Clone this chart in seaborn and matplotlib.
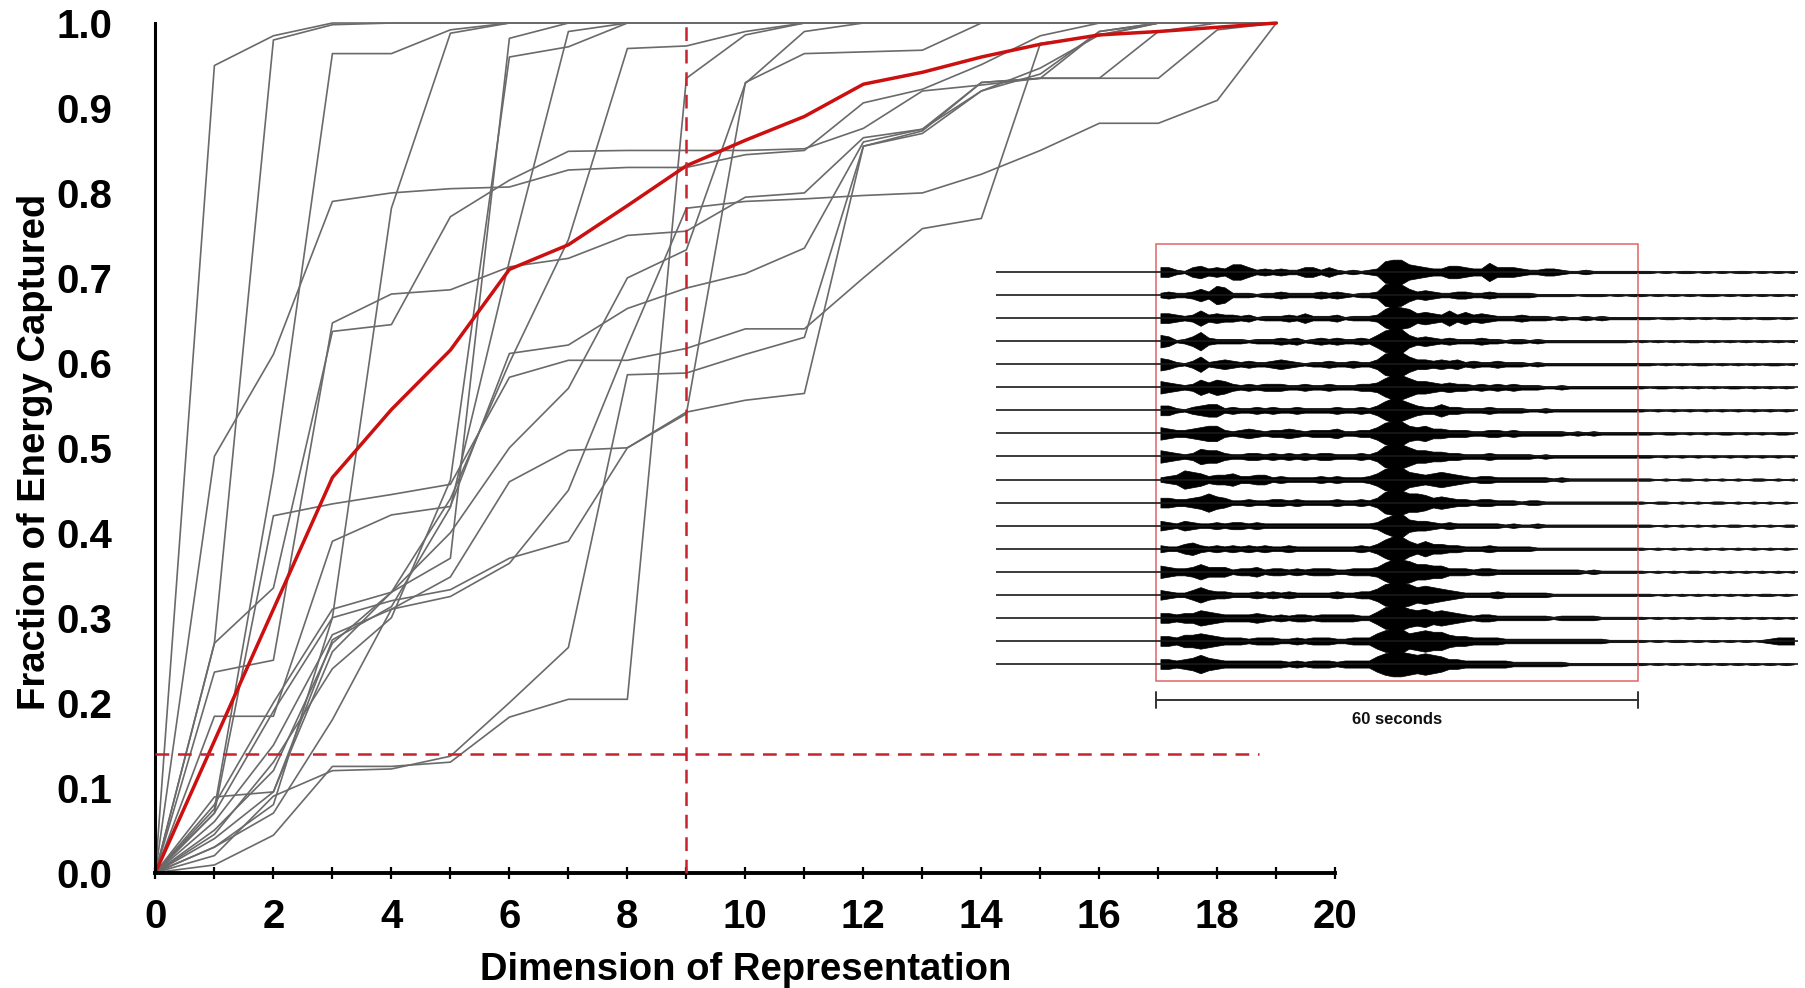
import numpy as np
import pandas as pd
import matplotlib
matplotlib.use("Agg")
import matplotlib.pyplot as plt
from matplotlib.patches import Rectangle
import seaborn as sns

# ---------------- data ----------------
dims = list(range(20))

curves = {
    "c01": [0, .95, .985, 1, 1, 1, 1, 1, 1, 1, 1, 1, 1, 1, 1, 1, 1, 1, 1, 1],
    "c02": [0, .27, .98, .998, 1, 1, 1, 1, 1, 1, 1, 1, 1, 1, 1, 1, 1, 1, 1, 1],
    "c03": [0, .075, .47, .964, .964, .992, 1, 1, 1, 1, 1, 1, 1, 1, 1, 1, 1, 1, 1, 1],
    "c04": [0, .07, .19, .30, .782, .988, 1, 1, 1, 1, 1, 1, 1, 1, 1, 1, 1, 1, 1, 1],
    "c05": [0, .04, .095, .26, .33, .37, .982, 1, 1, 1, 1, 1, 1, 1, 1, 1, 1, 1, 1, 1],
    "c06": [0, .49, .61, .79, .80, .805, .807, .827, .83, .83, .845, .85, .906, .922, .951, .985, 1, 1, 1, 1],
    "c07": [0, .27, .335, .637, .645, .772, .815, .849, .85, .85, .85, .852, .876, .92, .927, .935, .935, .935, .992, 1],
    "c08": [0, .236, .25, .647, .681, .686, .713, .723, .75, .755, .795, .80, .865, .875, .93, .935, .935, .99, 1, 1],
    "c09": [0, .184, .184, .39, .421, .431, .611, .621, .664, .688, .705, .735, .86, .875, .92, .947, .986, 1, 1, 1],
    "c10": [0, .07, .42, .434, .445, .457, .583, .603, .603, .617, .64, .64, .70, .758, .77, .976, .985, 1, 1, 1],
    "c11": [0, .03, .08, .30, .32, .333, .37, .39, .50, .542, .556, .564, .855, .87, .92, .94, .99, 1, 1, 1],
    "c12": [0, .009, .044, .125, .125, .13, .183, .204, .204, .935, .986, 1, 1, 1, 1, 1, 1, 1, 1, 1],
    "c13": [0, .02, .09, .12, .122, .137, .20, .265, .586, .588, .61, .63, .855, .873, .93, .935, .99, 1, 1, 1],
    "c14": [0, .06, .15, .28, .31, .325, .364, .45, .62, .782, .79, .793, .797, .80, .822, .85, .882, .882, .909, 1],
    "c15": [0, .08, .20, .31, .33, .44, .60, .745, .97, .973, .99, 1, 1, 1, 1, 1, 1, 1, 1, 1],
    "c16": [0, .03, .07, .18, .31, .348, .46, .497, .50, .54, .93, .964, .966, .968, 1, 1, 1, 1, 1, 1],
    "c17": [0, .045, .13, .24, .30, .462, .96, .972, 1, 1, 1, 1, 1, 1, 1, 1, 1, 1, 1, 1],
    "c18": [0, .089, .095, .274, .313, .43, .72, .99, 1, 1, 1, 1, 1, 1, 1, 1, 1, 1, 1, 1],
    "c19": [0, .05, .12, .27, .33, .40, .50, .57, .70, .733, .929, .99, 1, 1, 1, 1, 1, 1, 1, 1],
}

mean_curve = [0, .155, .31, .465, .545, .615, .71, .739, .785, .832, .862, .89, .928,
              .942, .96, .975, .986, .99, .995, 1.0]

chosen_dim = 9
threshold = 0.14
threshold_end = 18.7

# Waveform envelopes for the 18 stations, one level (0-9) per second over the 60 s window
window_levels = [
    "4421453436" "6423232244" "2421212389" "9654335543" "3744432233" "2112111111",
    "2322353762" "2212232222" "3232122389" "8534322332" "2322222111" "1101110101",
    "4432363433" "2312223242" "2231222379" "8745436353" "4322232221" "2112121111",
    "5412473222" "2122232312" "3232232589" "9534323222" "3221221211" "1111111110",
    "5421362343" "2322343212" "2322322489" "9644343423" "2232221211" "1111111111",
    "5432364653" "2323332232" "2322233479" "9755434332" "3232322211" "2111111111",
    "4421345523" "2232322322" "2232232479" "8643353322" "2322221121" "1111111111",
    "5433456632" "3432334323" "3342233589" "9656443332" "2332322222" "2121211111",
    "5432365532" "2332323232" "3322232489" "9755443322" "2322222121" "1111111111",
    "2347653445" "3344232222" "3232223589" "9654565432" "3322222221" "2111111111",
    "4433457542" "2322332322" "2232232489" "9776454332" "3322212211" "1111111111",
    "4324322323" "3232222222" "2222222368" "9544323222" "2221211211" "1111111111",
    "3224532323" "2323223222" "2222232479" "9646443322" "2322222111" "1111111111",
    "5433464442" "3342332323" "3322333479" "9866553332" "3322222222" "2221211111",
    "4322464332" "2232323222" "2232233589" "9867654322" "2232222221" "1111111111",
    "4434465433" "3343232332" "3333322589" "9767565432" "3322222221" "2222211111",
    "4435565433" "3233322323" "3322333689" "9678775443" "3332222222" "2222221111",
    "4434575433" "3333332323" "3323333689" "9878764433" "3333222222" "2111111111",
]
# Coda after the window (60-79 s)
tail_levels = [
    "11010110101011010101", "10101010110101010101", "11011010101101011010",
    "10101011010101010101", "11010101101010101101", "10110101010110101010",
    "10101010101010101010", "11011010101101010110", "11010101010101010101",
    "11010110101010110101", "10110101011010101010", "11010101010110101011",
    "10101010101010101010", "10101011010101010101", "11010101010101011010",
    "10101010110101010101", "10101101010101012333", "10101010101010101010",
]
pre_start, window_len, post_end = -20, 60, 80
scale_label = "60 seconds"

# ---------------- style ----------------
sns.set_theme(style="white")
plt.rcParams["font.family"] = ["Liberation Sans", "DejaVu Sans"]
plt.rcParams["font.weight"] = "bold"
plt.rcParams["axes.labelweight"] = "bold"

fig = plt.figure(figsize=(18.05, 9.88), dpi=100)
fig.patch.set_facecolor("white")
ax = fig.add_axes([0.0861, 0.1168, 0.6537, 0.8599])
ax.set_facecolor("white")

long = pd.DataFrame(
    [(name, d, v) for name, vals in curves.items() for d, v in zip(dims, vals)],
    columns=["curve", "dim", "frac"],
)
sns.lineplot(data=long, x="dim", y="frac", units="curve", estimator=None,
             color="#6a6a6a", linewidth=1.2, ax=ax, legend=False)
mean_df = pd.DataFrame({"dim": dims, "frac": mean_curve})
sns.lineplot(data=mean_df, x="dim", y="frac", color="#cc1010", linewidth=2.5, ax=ax)
for ln in ax.lines:
    ln.set_clip_on(False)

dash_kw = dict(color="#c8232c", linewidth=1.8, linestyle=(0, (5.5, 3.5)), clip_on=False, zorder=5)
ax.plot([chosen_dim, chosen_dim], [0, 1.006], **dash_kw)
ax.plot([0, threshold_end], [threshold, threshold], **dash_kw)

ax.set_xlim(0, 20)
ax.set_ylim(0, 1)
for side in ("top", "right"):
    ax.spines[side].set_visible(False)
ax.spines["left"].set_linewidth(2.2)
ax.spines["bottom"].set_linewidth(2.8)
ax.spines["left"].set_color("black")
ax.spines["bottom"].set_color("black")

ax.set_yticks(np.round(np.arange(0, 1.01, 0.1), 1))
ax.set_yticklabels([f"{v:.1f}" for v in np.arange(0, 1.01, 0.1)])
ax.set_xticks(range(0, 21, 2))
ax.set_xticks(range(1, 20, 2), minor=True)
ax.tick_params(axis="y", direction="out", length=9, width=2, labelsize=29, pad=22, colors="black")
ax.tick_params(axis="x", which="both", direction="inout", length=9, width=1.6,
               labelsize=29, pad=14, colors="black", bottom=True)

ax.set_xlabel("Dimension of Representation", fontsize=27.5, fontweight="bold", color="black")
ax.set_ylabel("Fraction of Energy Captured", fontsize=27.5, fontweight="bold", color="black")
ax.xaxis.set_label_coords(0.5, -0.094)
ax.yaxis.set_label_coords(-0.087, 0.495)

# ---------------- waveform panel ----------------
ax2 = fig.add_axes([996 / 1805, 1 - 724 / 988, 802 / 1805, 484.3 / 988])
ax2.set_xlim(pre_start, post_end)
ax2.set_ylim(-19.6, 1.4)
ax2.axis("off")

n_st = len(window_levels)
for i in range(n_st):
    base = -i
    levels = np.array([int(c) for c in window_levels[i] + tail_levels[i]], dtype=float)
    t = np.arange(len(levels)) + 0.5
    amp = 0.015 + 0.52 * (levels / 9.0) ** 1.2
    ax2.plot([pre_start, post_end], [base, base], color="#1a1a1a", linewidth=1.2)
    ax2.fill_between(t, base - amp, base + amp, color="black", linewidth=0.5,
                     edgecolor="black")

n_last = -(n_st - 1)
ax2.add_patch(Rectangle((0, n_last - 0.74), window_len, (n_st - 1) + 0.74 + 1.2,
                        fill=False, edgecolor="#e06666", linewidth=1.1))
bar_y = n_last - 1.57
ax2.plot([0, window_len], [bar_y, bar_y], color="#333333", linewidth=1.4)
for xe in (0, window_len):
    ax2.plot([xe, xe], [bar_y - 0.35, bar_y + 0.35], color="#333333", linewidth=1.4)
ax2.text(window_len / 2, bar_y - 0.85, scale_label, ha="center", va="center",
         fontsize=12, fontweight="bold", color="#111111")

fig.savefig("out.png", dpi=100, facecolor="white")
